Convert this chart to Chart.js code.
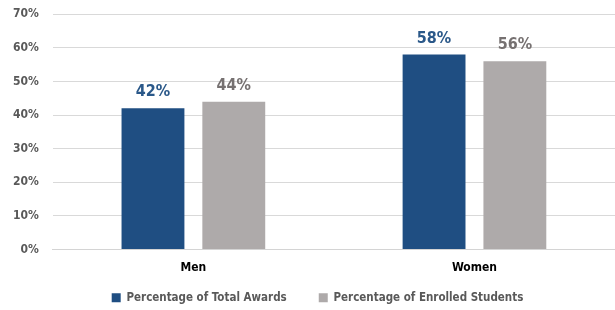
<!DOCTYPE html>
<html><head><meta charset="utf-8">
<script src="https://cdn.jsdelivr.net/npm/chart.js@4"></script>
<style>html,body{margin:0;padding:0;background:#fff}#wrap{width:615px;height:310px}</style>
</head><body><div id="wrap"><canvas id="c"></canvas></div>
<script>
const categories = ["Men", "Women"];
const seriesNames = ["Percentage of Total Awards", "Percentage of Enrolled Students"];
const totalAwards = [42, 58];
const enrolledStudents = [44, 56];
const yTicks = [0, 10, 20, 30, 40, 50, 60, 70];

const FONT = "'DejaVu Sans Condensed', 'Liberation Sans Narrow', sans-serif";
const labelColors = ["#2A5889", "#767171"];

const dataLabels = {
  id: 'dataLabels',
  afterLayout(chart) {
    // lift legend items closer under the category labels and centre them like the original
    const lg = chart.legend;
    if (lg) { lg.top -= 18; lg.left += 7; lg.right += 7; }
  },
  afterDatasetsDraw(chart) {
    const ctx = chart.ctx;
    ctx.save();
    ctx.font = "bold 16px " + FONT;
    ctx.textAlign = 'center';
    ctx.textBaseline = 'alphabetic';
    chart.data.datasets.forEach((ds, i) => {
      const meta = chart.getDatasetMeta(i);
      ctx.fillStyle = labelColors[i];
      meta.data.forEach((el, j) => {
        ctx.fillText(ds.data[j] + '%', el.x, el.y - 12);
      });
    });
    ctx.restore();
  }
};

new Chart(document.getElementById('c'), {
  type: 'bar',
  data: {
    labels: categories,
    datasets: [
      { label: seriesNames[0], data: totalAwards, backgroundColor: '#1F4E82', categoryPercentage: 0.575, barPercentage: 0.778 },
      { label: seriesNames[1], data: enrolledStudents, backgroundColor: '#AEAAAA', categoryPercentage: 0.575, barPercentage: 0.778 }
    ]
  },
  options: {
    responsive: true,
    maintainAspectRatio: false,
    animation: false,
    layout: { padding: { top: 0, right: 0, left: 6, bottom: 0 } },
    plugins: {
      legend: {
        position: 'bottom',
        maxHeight: 32,
        labels: {
          boxWidth: 9, boxHeight: 9, padding: 32,
          color: '#595959',
          font: { family: FONT, size: 11.5, weight: 'bold' }
        }
      },
      tooltip: { enabled: false }
    },
    scales: {
      x: {
        grid: { display: false },
        border: { color: '#D4D4D4', width: 1 },
        ticks: { color: '#000', padding: 3, font: { family: FONT, size: 12, weight: 'bold' } }
      },
      y: {
        min: 0, max: 70,
        afterBuildTicks(axis) { axis.ticks = yTicks.map(v => ({ value: v })); },
        grid: { color: '#D9D9D9', drawTicks: true, tickLength: 7, tickColor: 'rgba(0,0,0,0)' },
        border: { display: false },
        ticks: { color: '#595959', padding: 7, font: { family: FONT, size: 12, weight: 'bold' }, callback: v => v + '%' }
      }
    }
  },
  plugins: [dataLabels]
});
</script></body></html>
